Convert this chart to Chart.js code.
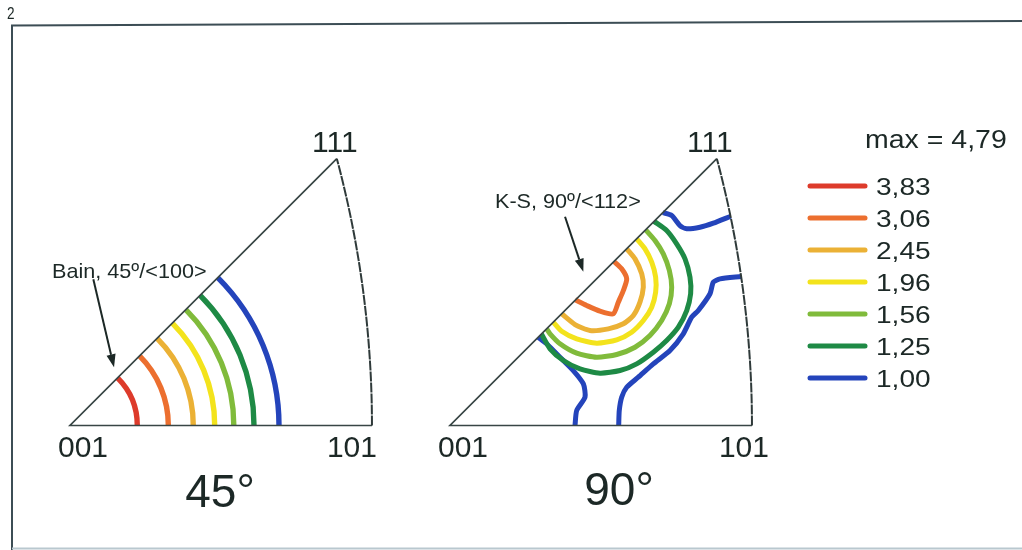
<!DOCTYPE html>
<html>
<head>
<meta charset="utf-8">
<title>Inverse pole figures, 45° and 90°</title>
<script src="https://cdn.jsdelivr.net/npm/chart.js@4.4.1/dist/chart.umd.min.js"></script>
<style>
  html, body { margin: 0; padding: 0; background: #ffffff; }
  #wrap { position: relative; width: 1022px; height: 550px; }
  canvas { display: block; }
</style>
</head>
<body>
<div id="wrap"><canvas id="ipf" width="1022" height="550"></canvas></div>
<script>
// ---------------------------------------------------------------
// Contour levels (multiples of random) and their colours
// ---------------------------------------------------------------
const levelLabels = ['3,83', '3,06', '2,45', '1,96', '1,56', '1,25', '1,00'];
const levelColors = ['#dd3b2b', '#ec6f2f', '#ebb135', '#f3e31c', '#80bb3b', '#1e8a45', '#2444bb'];
const maxLabel = 'max = 4,79';

// Standard triangle corners in stereographic coordinates
const poleNames = ['001', '101', '111'];
const poleX = [0, 0.4142, 0.3660];
const poleY = [0, 0, 0.3660];

// 45° map: each level is a circle about 001 (radius, stereographic units)
const bainRadius = [0.0923, 0.1349, 0.1691, 0.1985, 0.2247, 0.2524, 0.2867];

// 90° map: contour paths, stereographic x / y
const ks306X = [0.2250, 0.2355, 0.2424, 0.2378, 0.2309, 0.2240, 0.2058, 0.1875, 0.1715];
const ks306Y = [0.2250, 0.2149, 0.2012, 0.1852, 0.1692, 0.1532, 0.1568, 0.1646, 0.1724];

const ks245X = [0.2424, 0.2538, 0.2630, 0.2652, 0.2606, 0.2515, 0.2378, 0.2172, 0.1920, 0.1715, 0.1532];
const ks245Y = [0.2424, 0.2286, 0.2081, 0.1897, 0.1692, 0.1509, 0.1395, 0.1326, 0.1303, 0.1385, 0.1532];

const ks196X = [0.2561, 0.2675, 0.2767, 0.2821, 0.2821, 0.2767, 0.2652, 0.2492, 0.2287, 0.2012, 0.1738, 0.1532, 0.1417];
const ks196Y = [0.2561, 0.2423, 0.2241, 0.2035, 0.1829, 0.1623, 0.1440, 0.1280, 0.1175, 0.1129, 0.1189, 0.1294, 0.1417];

const ks156X = [0.2684, 0.2812, 0.2926, 0.3009, 0.3041, 0.3009, 0.2904, 0.2743, 0.2538, 0.2287, 0.2012, 0.1738, 0.1509, 0.1372, 0.1326];
const ks156Y = [0.2684, 0.2538, 0.2355, 0.2126, 0.1897, 0.1669, 0.1440, 0.1235, 0.1074, 0.0974, 0.0937, 0.0992, 0.1121, 0.1258, 0.1326];

const ks125X = [0.2800, 0.2972, 0.3109, 0.3224, 0.3292, 0.3301, 0.3247, 0.3132, 0.2972, 0.2789, 0.2561, 0.2332, 0.2058, 0.1783, 0.1555, 0.1372, 0.1255];
const ks125Y = [0.2800, 0.2675, 0.2492, 0.2286, 0.2035, 0.1806, 0.1577, 0.1349, 0.1166, 0.1006, 0.0846, 0.0754, 0.0718, 0.0777, 0.0892, 0.1052, 0.1255];

// level 1,00 falls apart into three pieces
const ks100aX = [0.2920, 0.3041, 0.3155, 0.3247, 0.3429, 0.3612, 0.3850];
const ks100aY = [0.2920, 0.2881, 0.2743, 0.2698, 0.2720, 0.2775, 0.2870];

const ks100bX = [0.3993, 0.3704, 0.3612, 0.3567, 0.3406, 0.3315, 0.3200, 0.3018, 0.2789, 0.2583, 0.2424, 0.2355, 0.2322, 0.2314];
const ks100bY = [0.2044, 0.2012, 0.1966, 0.1807, 0.1578, 0.1486, 0.1258, 0.1029, 0.0846, 0.0663, 0.0525, 0.0388, 0.0206, 0.0000];

const ks100cX = [0.1211, 0.1326, 0.1509, 0.1691, 0.1829, 0.1852, 0.1738, 0.1715];
const ks100cY = [0.1211, 0.1121, 0.0937, 0.0754, 0.0572, 0.0388, 0.0206, 0.0000];

const ksPaths = [
  { level: 1, x: ks306X, y: ks306Y },
  { level: 2, x: ks245X, y: ks245Y },
  { level: 3, x: ks196X, y: ks196Y },
  { level: 4, x: ks156X, y: ks156Y },
  { level: 5, x: ks125X, y: ks125Y },
  { level: 6, x: ks100aX, y: ks100aY },
  { level: 6, x: ks100bX, y: ks100bY },
  { level: 6, x: ks100cX, y: ks100cY }
];

// ---------------------------------------------------------------
// Layout
// ---------------------------------------------------------------
const W = 1022, H = 550;
const PX_PER_UNIT = 729;          // stereographic unit -> pixels
const ORIGIN_45 = 70;             // pixel column of 001, left map
const ORIGIN_90 = 450;            // pixel column of 001, right map
const BASE_Y = 425.5;             // pixel row of the 001-101 edge

const INK = '#1c2826';
const EDGE = '#384645';
const FONT = '"Liberation Sans", Arial, Helvetica, sans-serif';

const panels = [
  {
    axis: 'x45', title: '45°', titleDX: 150, titleY: 507,
    labelOffsets: { '001': [-12, 31, 'left'], '101': [-20, 31, 'center'], '111': [-2, -7, 'center'] },
    note: { text: 'Bain, 45º/<100>', tx: -0.0247, ty: 0.2106, fx: 0.0320, fy: 0.2005, hx: 0.0604, hy: 0.0798 }
  },
  {
    axis: 'x90', title: '90°', titleDX: 169, titleY: 505,
    labelOffsets: { '001': [-12, 31, 'left'], '101': [-8, 31, 'center'], '111': [-7, -7, 'center'] },
    note: { text: 'K-S, 90º/<112>', tx: 0.0617, ty: 0.3066, fx: 0.1578, fy: 0.2864, hx: 0.1829, hy: 0.2110 }
  }
];

// ---------------------------------------------------------------
// Datasets: the 90° contours as lines on the right-hand x scale
// ---------------------------------------------------------------
const datasets = ksPaths.map(p => ({
  xAxisID: 'x90',
  yAxisID: 'y',
  data: p.x.map((xv, i) => ({ x: xv, y: p.y[i] })),
  showLine: true,
  borderColor: levelColors[p.level],
  borderWidth: 5,
  tension: 0.22,
  pointRadius: 0,
  pointHoverRadius: 0,
  borderCapStyle: 'butt',
  borderJoinStyle: 'round',
  fill: false
}));

function drawStretchedText(ctx, text, x, y, sx) {
  ctx.save();
  ctx.translate(x, y);
  ctx.scale(sx, 1);
  ctx.fillText(text, 0, 0);
  ctx.restore();
}

function drawArrow(ctx, x0, y0, x1, y1) {
  const ang = Math.atan2(y1 - y0, x1 - x0);
  const len = 13, half = 4.6;
  const bx = x1 - len * Math.cos(ang), by = y1 - len * Math.sin(ang);
  ctx.strokeStyle = INK;
  ctx.fillStyle = INK;
  ctx.lineWidth = 2;
  ctx.beginPath();
  ctx.moveTo(x0, y0);
  ctx.lineTo(bx, by);
  ctx.stroke();
  ctx.beginPath();
  ctx.moveTo(x1, y1);
  ctx.lineTo(bx + half * Math.sin(ang), by - half * Math.cos(ang));
  ctx.lineTo(bx - half * Math.sin(ang), by + half * Math.cos(ang));
  ctx.closePath();
  ctx.fill();
}

// Frame, circles of the 45° map, triangle outlines, labels and legend
const figurePlugin = {
  id: 'figure',
  beforeDatasetsDraw(chart) {
    const ctx = chart.ctx;
    const ys = chart.scales.y;
    const xs = chart.scales.x45;
    const cx = xs.getPixelForValue(0), cy = ys.getPixelForValue(0);
    ctx.save();
    ctx.lineCap = 'butt';
    bainRadius.forEach((r, i) => {
      const rp = xs.getPixelForValue(r) - cx;
      ctx.strokeStyle = levelColors[i];
      ctx.lineWidth = 5.4;
      ctx.beginPath();
      ctx.arc(cx, cy, rp, 0, -Math.PI / 4, true);
      ctx.stroke();
    });
    ctx.restore();
  },
  afterDatasetsDraw(chart) {
    const ctx = chart.ctx;
    const ys = chart.scales.y;
    ctx.save();

    // page frame
    ctx.strokeStyle = '#3c4d55';
    ctx.lineWidth = 2;
    ctx.beginPath();
    ctx.moveTo(12, H);
    ctx.lineTo(12, 25.5);
    ctx.lineTo(W, 21);
    ctx.stroke();
    ctx.strokeStyle = '#b9c8cf';
    ctx.lineWidth = 2;
    ctx.beginPath();
    ctx.moveTo(12, 548.5);
    ctx.lineTo(W, 548.5);
    ctx.stroke();
    ctx.fillStyle = INK;
    ctx.font = '17px ' + FONT;
    ctx.textAlign = 'left';
    ctx.textBaseline = 'alphabetic';
    drawStretchedText(ctx, '2', 7, 19, 0.8);

    panels.forEach(p => {
      const xs = chart.scales[p.axis];
      const px = i => xs.getPixelForValue(poleX[i]);
      const py = i => ys.getPixelForValue(poleY[i]);

      // straight edges 111 - 001 - 101
      ctx.strokeStyle = EDGE;
      ctx.lineWidth = 1.7;
      ctx.beginPath();
      ctx.moveTo(px(2), py(2));
      ctx.lineTo(px(0), py(0));
      ctx.lineTo(px(1), py(1));
      ctx.stroke();

      // great-circle edge 101 - 111: centre (-1, 0), radius sqrt(2)
      const ccx = xs.getPixelForValue(-1), ccy = ys.getPixelForValue(0);
      const rad = xs.getPixelForValue(Math.SQRT2 - 1) - ccx;
      const a1 = Math.atan2(py(2) - ccy, px(2) - ccx);
      ctx.strokeStyle = '#2f3a3a';
      ctx.lineWidth = 2;
      ctx.setLineDash([10, 1]);
      ctx.beginPath();
      ctx.arc(ccx, ccy, rad, 0, a1, true);
      ctx.stroke();
      ctx.setLineDash([]);

      // corner labels
      ctx.fillStyle = INK;
      ctx.font = '30px ' + FONT;
      ctx.textBaseline = 'alphabetic';
      poleNames.forEach((name, i) => {
        const o = p.labelOffsets[name];
        ctx.textAlign = o[2];
        ctx.fillText(name, px(i) + o[0], py(i) + o[1]);
      });

      // panel title
      ctx.font = '46px ' + FONT;
      ctx.textAlign = 'center';
      ctx.fillText(p.title, px(0) + p.titleDX, p.titleY);

      // orientation note and arrow
      const n = p.note;
      ctx.font = '21px ' + FONT;
      ctx.textAlign = 'left';
      ctx.textBaseline = 'middle';
      drawStretchedText(ctx, n.text, xs.getPixelForValue(n.tx), ys.getPixelForValue(n.ty), 1.03);
      drawArrow(ctx, xs.getPixelForValue(n.fx), ys.getPixelForValue(n.fy),
                     xs.getPixelForValue(n.hx), ys.getPixelForValue(n.hy));
    });

    // legend
    ctx.fillStyle = INK;
    ctx.textAlign = 'left';
    ctx.textBaseline = 'alphabetic';
    ctx.font = '25px ' + FONT;
    drawStretchedText(ctx, maxLabel, 865, 148, 1.14);
    ctx.font = '24px ' + FONT;
    levelLabels.forEach((lab, i) => {
      const y = 186 + i * 32;
      ctx.strokeStyle = levelColors[i];
      ctx.lineWidth = 5;
      ctx.lineCap = 'round';
      ctx.beginPath();
      ctx.moveTo(810, y);
      ctx.lineTo(865, y);
      ctx.stroke();
      ctx.fillStyle = INK;
      drawStretchedText(ctx, lab, 876, y + 8.6, 1.17);
    });

    ctx.restore();
  }
};

new Chart(document.getElementById('ipf'), {
  type: 'scatter',
  data: { datasets },
  options: {
    responsive: false,
    animation: false,
    devicePixelRatio: 1,
    layout: { padding: 0 },
    events: [],
    plugins: { legend: { display: false }, tooltip: { enabled: false } },
    scales: {
      x45: { type: 'linear', axis: 'x', display: false,
             min: -ORIGIN_45 / PX_PER_UNIT, max: (W - ORIGIN_45) / PX_PER_UNIT },
      x90: { type: 'linear', axis: 'x', display: false,
             min: -ORIGIN_90 / PX_PER_UNIT, max: (W - ORIGIN_90) / PX_PER_UNIT },
      y:   { type: 'linear', axis: 'y', display: false,
             min: -(H - BASE_Y) / PX_PER_UNIT, max: BASE_Y / PX_PER_UNIT }
    }
  },
  plugins: [figurePlugin]
});
</script>
</body>
</html>
